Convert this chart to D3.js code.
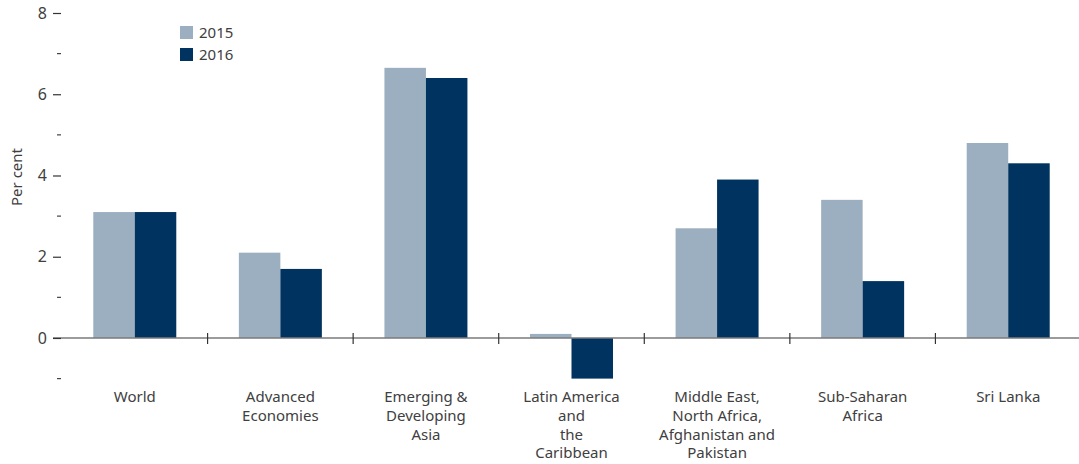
<!DOCTYPE html>
<html>
<head>
<meta charset="utf-8">
<script src="https://cdn.jsdelivr.net/npm/d3@7"></script>
<style>
  body { margin: 0; background: #fff; }
  svg text { font-family: "Noto Sans", "Lato", sans-serif; fill: #404040; }
</style>
</head>
<body>
<svg id="mainSvg"></svg>
<script>
// categories and the two yearly series (per cent)
const categories = ['World', 'Advanced Economies', 'Emerging & Developing Asia', 'Latin America and the Caribbean',
  'Middle East, North Africa, Afghanistan and Pakistan', 'Sub-Saharan Africa', 'Sri Lanka'];
const catLines = [['World'], ['Advanced', 'Economies'], ['Emerging &', 'Developing', 'Asia'],
  ['Latin America', 'and', 'the', 'Caribbean'], ['Middle East,', 'North Africa,', 'Afghanistan and', 'Pakistan'],
  ['Sub-Saharan', 'Africa'], ['Sri Lanka']];
const years = ['2015', '2016'];
const values2015 = [3.1, 2.1, 6.65, 0.1, 2.7, 3.4, 4.8];
const values2016 = [3.1, 1.7, 6.4, -1.0, 3.9, 1.4, 4.3];
const majorTicks = [0, 2, 4, 6, 8];
const minorTicks = [-1, 1, 3, 5, 7];

const [w, h] = [1079, 464];
const colors = {'2015': '#9cafc0', '2016': '#00335f'};

const svg = d3.select('#mainSvg').attr('width', w).attr('height', h);

const x = d3.scaleBand().domain(categories).range([62, 1081]).paddingInner(0).paddingOuter(0);
const xSub = d3.scaleBand().domain(years).range([0, x.bandwidth()]).paddingInner(0).paddingOuter(0.754);
const y = d3.scaleLinear().domain([-1, 8]).range([378.6, 13]);

const rows = categories.map((c, i) => ({cat: c, '2015': values2015[i], '2016': values2016[i]}));

// bars
const groups = svg.append('g').selectAll('g').data(rows).enter().append('g')
  .attr('transform', d => `translate(${x(d.cat)},0)`);
groups.selectAll('rect').data(d => years.map(k => ({key: k, value: d[k]}))).enter().append('rect')
  .attr('x', d => xSub(d.key))
  .attr('width', xSub.bandwidth())
  .attr('y', d => y(Math.max(0, d.value)))
  .attr('height', d => Math.abs(y(d.value) - y(0)))
  .attr('fill', d => colors[d.key]);

// x axis line and category separators
const axisG = svg.append('g');
axisG.append('line').attr('x1', 53).attr('x2', w).attr('y1', y(0)).attr('y2', y(0))
  .attr('stroke', '#7a7a7a').attr('stroke-width', 1.6);
axisG.selectAll('.sep').data(categories.slice(1)).enter().append('line')
  .attr('x1', d => x(d)).attr('x2', d => x(d))
  .attr('y1', y(0) - 5).attr('y2', y(0) + 6)
  .attr('stroke', '#333').attr('stroke-width', 1.2);

// category labels
const labels = svg.append('g').selectAll('text').data(categories).enter().append('text')
  .attr('text-anchor', 'middle').style('font-size', '15px')
  .attr('transform', d => `translate(${x(d) + x.bandwidth() / 2},402)`);
labels.selectAll('tspan').data((d, i) => catLines[i]).enter().append('tspan')
  .attr('x', 0).attr('dy', (d, i) => i === 0 ? 0 : 18.8).text(d => d);

// y axis: major ticks with labels, minor ticks as short dashes
const yAxis = d3.axisLeft(y).tickValues(majorTicks).tickSize(8).tickPadding(6).tickFormat(d3.format('d'));
const yG = svg.append('g').attr('transform', 'translate(61,0)').call(yAxis);
yG.select('.domain').remove();
yG.selectAll('.tick line').attr('stroke', '#333').attr('stroke-width', 1.2);
yG.selectAll('.tick text').style('font-size', '16px').attr('fill', '#333');
svg.append('g').selectAll('line').data(minorTicks).enter().append('line')
  .attr('x1', 57).attr('x2', 61).attr('y1', d => y(d)).attr('y2', d => y(d))
  .attr('stroke', '#444').attr('stroke-width', 1.2);

svg.append('text').attr('transform', 'translate(22,177) rotate(-90)')
  .attr('text-anchor', 'middle').style('font-size', '15px').text('Per cent');

// legend
const legend = svg.append('g').selectAll('g').data(years).enter().append('g')
  .attr('transform', (d, i) => `translate(180,${26 + i * 22})`);
legend.append('rect').attr('width', 13).attr('height', 13).attr('fill', d => colors[d]);
legend.append('text').attr('x', 19).attr('y', 12).style('font-size', '15px').text(d => d);
</script>
</body>
</html>
